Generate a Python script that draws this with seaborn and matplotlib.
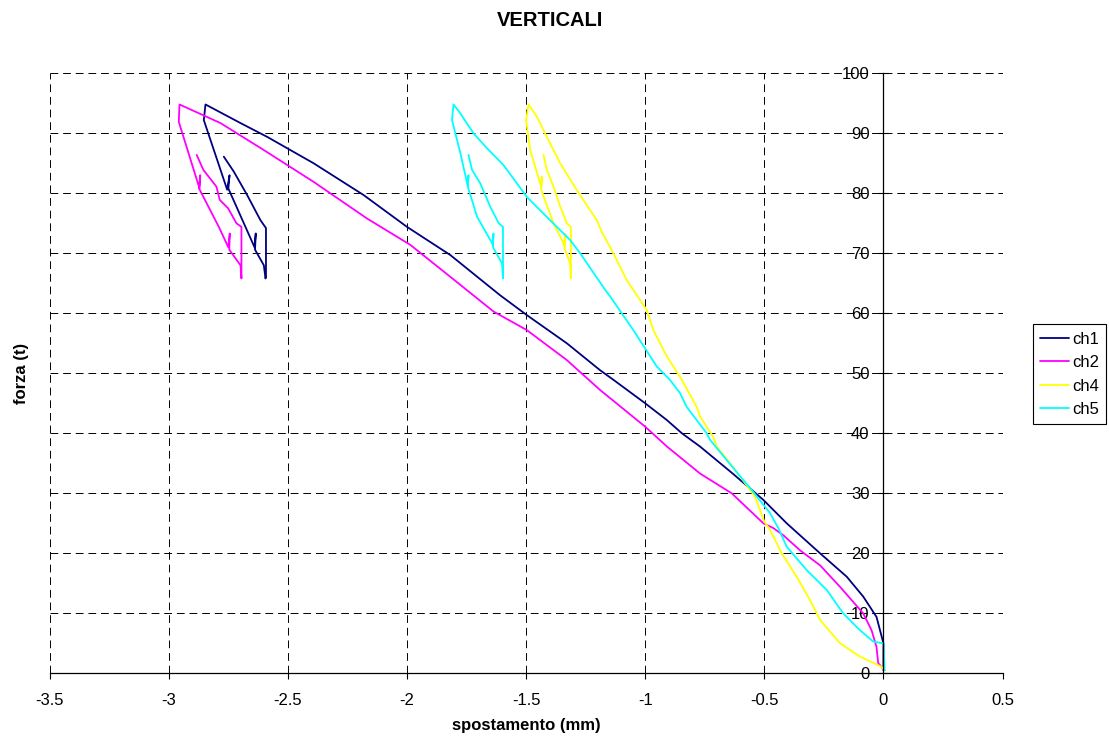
# plot.py - VERTICALI (forza vs spostamento)

import pandas as pd
import matplotlib
matplotlib.use("Agg")
import matplotlib.pyplot as plt
import seaborn as sns

# --- data ---
ch1_x = [0.0, 0.0, -0.029, -0.085, -0.154, -0.266, -0.406, -0.504, -0.63, -0.77,
         -0.846, -0.909, -1.0, -1.133, -1.189, -1.329, -1.497, -1.609, -1.818, -2.0,
         -2.182, -2.392, -2.587, -2.699, -2.846,
         -2.853, -2.755, -2.745, -2.75, -2.64, -2.635, -2.638, -2.601, -2.594,
         -2.592, -2.592, -2.615, -2.671, -2.727, -2.769]
ch1_y = [0.5, 5.0, 9.4, 12.8, 16.1, 20.0, 25.0, 28.9, 33.2, 37.8,
         40.0, 42.2, 45.0, 48.9, 50.5, 55.0, 59.7, 63.0, 69.7, 74.4,
         79.7, 85.0, 89.4, 91.7, 94.8,
         92.2, 80.6, 83.0, 80.8, 71.0, 73.3, 70.6, 68.0, 65.8,
         66.2, 74.2, 75.5, 79.7, 83.6, 86.1]

ch2_x = [0.005, -0.022, -0.029, -0.05, -0.085, -0.182, -0.266, -0.35, -0.42, -0.462,
         -0.504, -0.637, -0.77, -0.909, -1.0, -1.189, -1.329, -1.497, -1.637, -1.8,
         -1.986, -2.168, -2.392, -2.601, -2.783, -2.955,
         -2.958, -2.871, -2.868, -2.873, -2.79, -2.75, -2.744, -2.746, -2.699, -2.695,
         -2.695, -2.695, -2.716, -2.751, -2.786, -2.8, -2.855, -2.883]
ch2_y = [0.5, 1.7, 4.4, 7.2, 10.0, 14.4, 18.0, 20.5, 23.0, 24.2,
         25.0, 30.0, 33.3, 37.8, 41.1, 47.2, 52.2, 57.2, 60.3, 65.5,
         71.4, 75.8, 81.9, 87.2, 91.7, 94.8,
         91.9, 80.8, 83.0, 80.8, 74.4, 71.0, 73.3, 70.6, 68.0, 65.8,
         66.0, 74.4, 75.0, 77.5, 78.9, 81.1, 83.9, 86.4]

ch4_x = [0.005, -0.008, -0.099, -0.182, -0.266, -0.308, -0.364, -0.427, -0.476, -0.5,
         -0.54, -0.602, -0.644, -0.7, -0.714, -0.77, -0.784, -0.846, -0.909, -0.966,
         -0.993, -1.077, -1.147, -1.182, -1.203, -1.287, -1.357, -1.413, -1.455, -1.49,
         -1.5, -1.483, -1.436, -1.434, -1.437, -1.385, -1.343, -1.34, -1.336, -1.338,
         -1.315, -1.312,
         -1.312, -1.312, -1.329, -1.357, -1.385, -1.413, -1.427]
ch4_y = [0.5, 1.1, 2.8, 5.0, 8.9, 12.2, 16.1, 20.0, 23.9, 25.3,
         29.5, 32.8, 35.0, 37.8, 39.4, 42.8, 44.4, 48.9, 52.8, 57.2,
         60.5, 65.5, 71.0, 73.5, 75.5, 80.5, 85.0, 89.4, 92.8, 94.8,
         92.2, 87.2, 81.0, 82.8, 80.6, 75.0, 71.7, 71.2, 73.3, 70.8,
         68.3, 65.8,
         66.0, 74.4, 75.0, 77.8, 81.1, 83.9, 86.4]

ch5_x = [0.005, 0.0, -0.043, -0.099, -0.169, -0.238, -0.322, -0.406, -0.441, -0.476,
         -0.546, -0.63, -0.728, -0.742, -0.826, -0.854, -0.896, -0.951, -1.05, -1.147,
         -1.168, -1.273, -1.315, -1.399, -1.497, -1.595, -1.664, -1.721, -1.776, -1.805,
         -1.811, -1.776, -1.745, -1.742, -1.744, -1.706, -1.643, -1.64, -1.637, -1.639,
         -1.601, -1.597,
         -1.597, -1.597, -1.615, -1.651, -1.693, -1.727, -1.742]
ch5_y = [0.5, 5.0, 5.3, 7.2, 10.0, 13.9, 17.2, 21.1, 24.2, 26.7,
         30.2, 34.2, 38.9, 40.0, 44.4, 46.7, 48.9, 51.1, 57.2, 62.8,
         63.9, 70.0, 72.2, 75.5, 79.4, 84.7, 87.5, 90.0, 93.3, 94.8,
         92.2, 86.7, 81.2, 83.0, 81.0, 76.1, 71.7, 71.4, 73.3, 71.0,
         68.3, 65.8,
         66.0, 74.4, 75.0, 77.8, 81.7, 83.9, 86.4]

channels = ["ch1", "ch2", "ch4", "ch5"]
colors = ["#000080", "#FF00FF", "#FFFF00", "#00FFFF"]

x_ticks = [-3.5, -3, -2.5, -2, -1.5, -1, -0.5, 0, 0.5]
x_tick_labels = ["-3.5", "-3", "-2.5", "-2", "-1.5", "-1", "-0.5", "0", "0.5"]
y_ticks = [0, 10, 20, 30, 40, 50, 60, 70, 80, 90, 100]
y_tick_labels = ["0", "10", "20", "30", "40", "50", "60", "70", "80", "90", "100"]

# long table for seaborn
frames = []
for name, xs, ys in zip(channels, [ch1_x, ch2_x, ch4_x, ch5_x], [ch1_y, ch2_y, ch4_y, ch5_y]):
    frames.append(pd.DataFrame({"spostamento": xs, "forza": ys, "canale": name}))
df = pd.concat(frames, ignore_index=True)

sns.set_theme(style="white")
plt.rcParams["font.family"] = ["Liberation Sans", "DejaVu Sans"]
plt.rcParams["axes.unicode_minus"] = False
plt.rcParams["text.color"] = "black"
plt.rcParams["axes.labelcolor"] = "black"
plt.rcParams["xtick.color"] = "black"
plt.rcParams["ytick.color"] = "black"

fig = plt.figure(figsize=(11.09, 7.40), dpi=100)
ax = fig.add_axes([0.0448, 0.0901, 0.8592, 0.8109])

sns.lineplot(data=df, x="spostamento", y="forza", hue="canale", hue_order=channels,
             palette=colors, sort=False, estimator=None, linewidth=1.3, ax=ax)

ax.set_xlim(-3.5, 0.5)
ax.set_ylim(0, 100)

# Excel-like axes: y axis crosses at x = 0, no box
for s in ["top", "right"]:
    ax.spines[s].set_visible(False)
ax.spines["left"].set_position(("data", 0))
ax.spines["left"].set_color("black")
ax.spines["bottom"].set_color("black")
ax.spines["left"].set_linewidth(0.9)
ax.spines["bottom"].set_linewidth(0.9)

ax.set_xticks(x_ticks)
ax.set_xticklabels(x_tick_labels)
ax.set_yticks(y_ticks)
ax.set_yticklabels(y_tick_labels)
ax.tick_params(axis="x", direction="out", length=4, width=0.8, pad=10, labelsize=12,
               color="black", labelcolor="black", bottom=True)
ax.tick_params(axis="y", direction="inout", length=7, width=0.8, pad=6.5, labelsize=12,
               color="black", labelcolor="black", left=True)

ax.grid(True, color="black", linestyle=(0, (8, 5)), linewidth=0.7)
ax.set_axisbelow(True)

ax.set_xlabel("spostamento (mm)", fontsize=12, fontweight="bold", color="black")
ax.xaxis.set_label_coords(0.5, -0.074)
ax.set_ylabel("forza (t)", fontsize=12, fontweight="bold", color="black")
ax.yaxis.set_label_coords(-0.022, 0.5)

fig.text(550 / 1109, 1 - 20.5 / 740, "VERTICALI", ha="center", va="center",
         fontsize=14.5, fontweight="bold", color="black")

handles, labels = ax.get_legend_handles_labels()
ax.get_legend().remove()
leg = fig.legend(handles, labels, loc="center left", bbox_to_anchor=(1032.7 / 1109, 0.494),
                 fontsize=12, frameon=True, fancybox=False, edgecolor="black",
                 framealpha=1, borderpad=0.45, handlelength=1.7, handletextpad=0.2,
                 labelspacing=0.5, borderaxespad=0)
leg.get_frame().set_linewidth(0.8)

fig.savefig("out.png", dpi=100)
